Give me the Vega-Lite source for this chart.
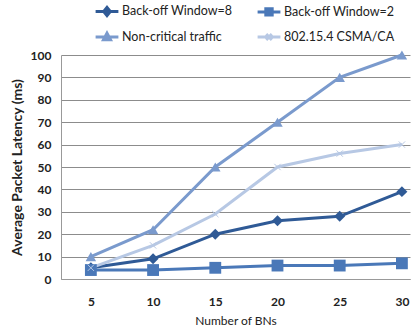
{
  "$schema": "https://vega.github.io/schema/vega-lite/v6.json",
  "width": 349,
  "height": 224,
  "autosize": {"type": "none"},
  "padding": {"left": 61, "top": 55, "right": 1, "bottom": 53},
  "background": "white",
  "config": {
    "font": "Lato",
    "view": {"stroke": null}
  },
  "data": {
    "values": [
      {"n": 5, "series": "Back-off Window=8", "v": 5},
      {"n": 10, "series": "Back-off Window=8", "v": 9},
      {"n": 15, "series": "Back-off Window=8", "v": 20},
      {"n": 20, "series": "Back-off Window=8", "v": 26},
      {"n": 25, "series": "Back-off Window=8", "v": 28},
      {"n": 30, "series": "Back-off Window=8", "v": 39},
      {"n": 5, "series": "Back-off Window=2", "v": 4},
      {"n": 10, "series": "Back-off Window=2", "v": 4},
      {"n": 15, "series": "Back-off Window=2", "v": 5},
      {"n": 20, "series": "Back-off Window=2", "v": 6},
      {"n": 25, "series": "Back-off Window=2", "v": 6},
      {"n": 30, "series": "Back-off Window=2", "v": 7},
      {"n": 5, "series": "Non-critical traffic", "v": 10},
      {"n": 10, "series": "Non-critical traffic", "v": 22},
      {"n": 15, "series": "Non-critical traffic", "v": 50},
      {"n": 20, "series": "Non-critical traffic", "v": 70},
      {"n": 25, "series": "Non-critical traffic", "v": 90},
      {"n": 30, "series": "Non-critical traffic", "v": 100},
      {"n": 5, "series": "802.15.4 CSMA/CA", "v": 5},
      {"n": 10, "series": "802.15.4 CSMA/CA", "v": 15},
      {"n": 15, "series": "802.15.4 CSMA/CA", "v": 29},
      {"n": 20, "series": "802.15.4 CSMA/CA", "v": 50},
      {"n": 25, "series": "802.15.4 CSMA/CA", "v": 56},
      {"n": 30, "series": "802.15.4 CSMA/CA", "v": 60}
    ]
  },
  "encoding": {
    "x": {
      "field": "n", "type": "quantitative",
      "scale": {"domain": [2.6, 30.65], "nice": false, "zero": false},
      "axis": {
        "title": "Number of BNs", "values": [5, 10, 15, 20, 25, 30],
        "grid": false, "ticks": false, "domainColor": "#999999",
        "labelFontSize": 12, "labelFontWeight": "bold", "labelColor": "#222222",
        "labelPadding": 17, "titleFontSize": 12, "titleFontWeight": "normal",
        "titleColor": "#222222", "titlePadding": 8, "labelFlush": false
      }
    },
    "y": {
      "field": "v", "type": "quantitative",
      "scale": {"domain": [0, 100], "nice": false},
      "axis": {
        "title": "Average Packet Latency (ms)", "values": [0,10,20,30,40,50,60,70,80,90,100],
        "gridColor": "#8c8c8c", "ticks": false, "domainColor": "#999999",
        "labelFontSize": 12, "labelFontWeight": "bold", "labelColor": "#222222",
        "labelPadding": 10, "titleFontSize": 14, "titleFontWeight": "bold",
        "titleColor": "#222222", "titlePadding": 6
      }
    },
    "color": {
      "field": "series", "type": "nominal",
      "scale": {
        "domain": ["Back-off Window=8", "Back-off Window=2", "Non-critical traffic", "802.15.4 CSMA/CA"],
        "range": ["#2f5a96", "#4a78b8", "#7a9acd", "#b7c8e4"]
      },
      "legend": null
    }
  },
  "layer": [
    {
      "mark": {"type": "line", "strokeWidth": 3},
      "encoding": {
        "color": {
          "field": "series", "type": "nominal",
          "legend": {
            "orient": "none", "legendX": 33, "legendY": -57, "direction": "horizontal",
            "columns": 2, "title": null, "labelFontSize": 12.5, "labelColor": "#222222",
            "symbolSize": 520, "symbolType": "stroke", "symbolStrokeWidth": 3,
            "rowPadding": 2, "columnPadding": 18, "labelOffset": 2,
            "encode": {
              "symbols": {
                "enter": {
                  "shape": {"signal": "datum.value === 'Back-off Window=8' ? 'M-1,0H1M0,-0.36L0.29,0L0,0.36L-0.29,0Z' : datum.value === 'Back-off Window=2' ? 'M-1,0H1M-0.28,-0.28H0.28V0.28H-0.28Z' : datum.value === 'Non-critical traffic' ? 'M-1,0H1M0,-0.34L0.31,0.25H-0.31Z' : 'M-1,0H1M-0.25,-0.25L0.25,0.25M-0.25,0.25L0.25,-0.25'"},
                  "fill": {"signal": "datum.value === 'Back-off Window=8' ? '#2f5a96' : datum.value === 'Back-off Window=2' ? '#4a78b8' : datum.value === 'Non-critical traffic' ? '#7a9acd' : 'transparent'"}
                },
                "update": {
                  "shape": {"signal": "datum.value === 'Back-off Window=8' ? 'M-1,0H1M0,-0.36L0.29,0L0,0.36L-0.29,0Z' : datum.value === 'Back-off Window=2' ? 'M-1,0H1M-0.28,-0.28H0.28V0.28H-0.28Z' : datum.value === 'Non-critical traffic' ? 'M-1,0H1M0,-0.34L0.31,0.25H-0.31Z' : 'M-1,0H1M-0.25,-0.25L0.25,0.25M-0.25,0.25L0.25,-0.25'"},
                  "fill": {"signal": "datum.value === 'Back-off Window=8' ? '#2f5a96' : datum.value === 'Back-off Window=2' ? '#4a78b8' : datum.value === 'Non-critical traffic' ? '#7a9acd' : 'transparent'"},
                  "strokeWidth": {"value": 3}
                }
              }
            }
          }
        }
      }
    },
    {
      "transform": [{"filter": "datum.series === 'Back-off Window=8'"}],
      "mark": {"type": "point", "shape": "diamond", "filled": true, "opacity": 1, "size": 120}
    },
    {
      "transform": [{"filter": "datum.series === 'Back-off Window=2'"}],
      "mark": {"type": "point", "shape": "square", "filled": true, "opacity": 1, "size": 140}
    },
    {
      "transform": [{"filter": "datum.series === 'Non-critical traffic'"}],
      "mark": {"type": "point", "shape": "triangle-up", "filled": true, "opacity": 1, "size": 110}
    },
    {
      "transform": [{"filter": "datum.series === '802.15.4 CSMA/CA'"}],
      "mark": {"type": "point", "shape": "M-1,-1L1,1M-1,1L1,-1", "filled": false, "opacity": 1, "size": 40, "strokeWidth": 1}
    }
  ]
}
